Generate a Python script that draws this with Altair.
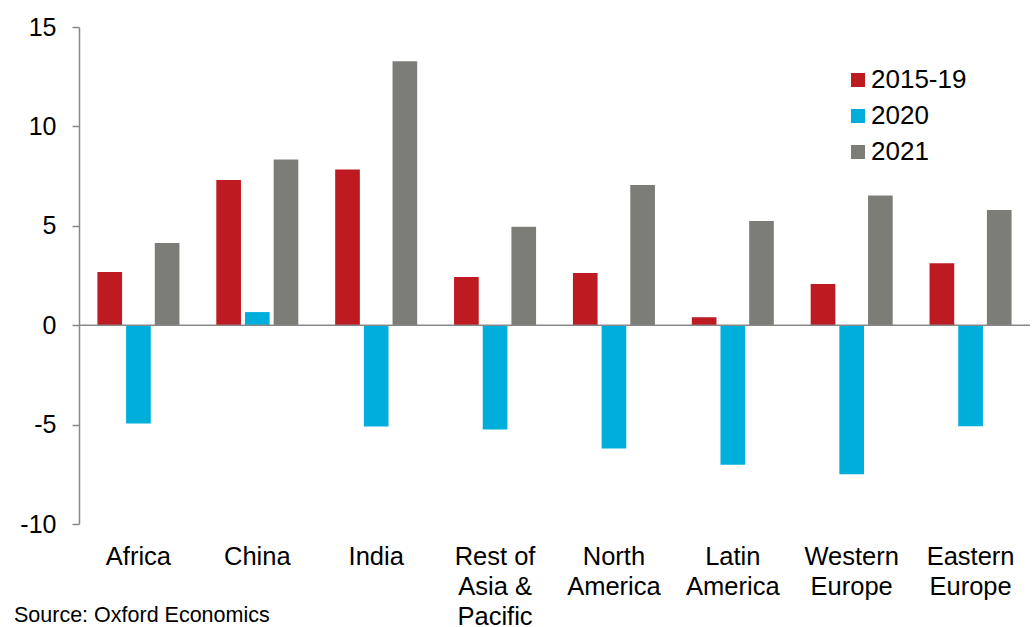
import altair as alt
import pandas as pd

categories = ["Africa", "China", "India", "Rest of|Asia &|Pacific", "North|America",
              "Latin|America", "Western|Europe", "Eastern|Europe"]
series = ["2015-19", "2020", "2021"]
v_2015_19 = [2.68, 7.3, 7.83, 2.42, 2.62, 0.4, 2.07, 3.12]
v_2020 = [-4.95, 0.66, -5.1, -5.25, -6.2, -7.02, -7.5, -5.08]
v_2021 = [4.13, 8.33, 13.28, 4.95, 7.05, 5.24, 6.52, 5.8]
colors = ["#BE1A22", "#00AEDC", "#7D7D78"]

rows = []
for s, vals in zip(series, [v_2015_19, v_2020, v_2021]):
    for c, v in zip(categories, vals):
        rows.append({"region": c, "series": s, "value": v})
df = pd.DataFrame(rows)

FONT = "Liberation Sans"

bars = alt.Chart(df).mark_bar().encode(
    x=alt.X("region:N", sort=categories, title=None,
            scale=alt.Scale(paddingInner=0.31, paddingOuter=0.155),
            axis=alt.Axis(labelAngle=0, domain=False, ticks=False, labelPadding=20,
                          labelExpr="split(datum.label, '|')", labelFontSize=25.5,
                          labelLineHeight=30, labelColor="#000", labelFont=FONT,
                          labelBaseline="top")),
    xOffset=alt.XOffset("series:N", sort=series,
                        scale=alt.Scale(paddingInner=0.14, paddingOuter=0)),
    y=alt.Y("value:Q", title=None,
            scale=alt.Scale(domain=[-10, 15], nice=False),
            axis=alt.Axis(values=[-10, -5, 0, 5, 10, 15], grid=False, tickSize=7,
                          labelPadding=16, labelFontSize=25, labelColor="#000",
                          labelFont=FONT, domainColor="#888888", tickColor="#888888",
                          domainWidth=1.5, tickWidth=1.5,
                          labelExpr="toString(datum.value)")),
    color=alt.Color("series:N", sort=series, scale=alt.Scale(domain=series, range=colors),
                    legend=alt.Legend(title=None, orient="none", legendX=766, legendY=40,
                                      symbolType="square", symbolSize=196,
                                      symbolStrokeWidth=0, labelFontSize=26,
                                      labelFont=FONT, labelColor="#000",
                                      rowPadding=10, labelOffset=0, padding=0)),
)

zero = alt.Chart(pd.DataFrame({"y": [0]})).mark_rule(color="#888888", strokeWidth=1.5).encode(
    y="y:Q"
)

source = alt.Chart(pd.DataFrame({"t": ["Source: Oxford Economics"]})).mark_text(
    align="left", baseline="middle", fontSize=21.5, font=FONT, color="#000"
).encode(x=alt.value(-65), y=alt.value(589), text="t:N")

chart = alt.layer(bars, zero, source).properties(
    width=951, height=497,
    autosize=alt.AutoSizeParams(type="none"),
    padding={"left": 79, "top": 27, "right": 6, "bottom": 103},
).configure_view(stroke=None)

chart.save("out.html", embed_options={"renderer": "svg", "actions": False})
